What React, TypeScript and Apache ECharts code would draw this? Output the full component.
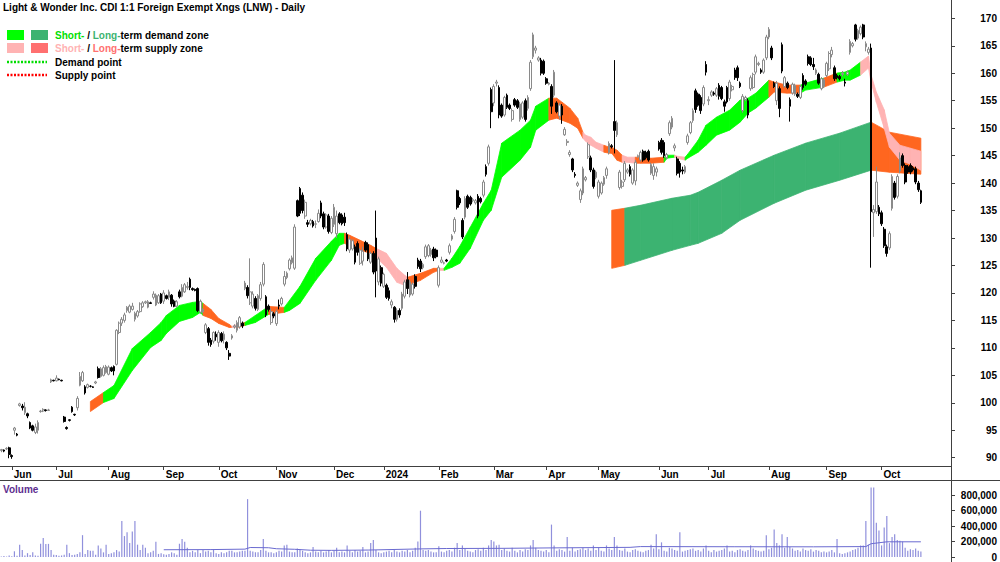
import React, { useEffect, useRef } from "react";
import * as echarts from "echarts";

// ---- categories: trading days per month (label, count) ----
const MONTHS: [string, number][] = [
  ["May", 4], ["Jun", 17], ["Jul", 20], ["Aug", 21], ["Sep", 21], ["Oct", 22], ["Nov", 22], ["Dec", 19],
  ["2024", 21], ["Feb", 21], ["Mar", 20], ["Apr", 20], ["May", 23], ["Jun", 19], ["Jul", 23], ["Aug", 22],
  ["Sep", 21], ["Oct", 16],
];
const PAD_DAYS = 11;

// ---- daily candles: [open, close, low, high] ----
const OHLC: number[][] = [
  [91.3,91.5,91.0,91.6],[91.4,91.2,91.0,91.5],[91.6,91.7,91.4,91.9],[91.8,90.6,89.9,92.0],
  [90.4,90.2,89.8,90.6],[95.0,95.4,94.2,95.6],[94.3,94.1,93.9,94.5],[99.5,99.8,99.3,100.0],[99.4,99.1,98.6,99.8],
  [98.2,99.2,97.8,100.1],[98.0,97.6,97.2,98.2],[96.4,95.4,95.2,96.6],[95.8,95.0,94.8,96.0],[94.6,95.6,94.3,96.2],
  [95.0,96.4,94.4,96.8],[98.4,98.5,98.2,98.7],[98.5,98.8,98.3,99.0],[98.7,98.6,98.4,98.8],[98.6,98.7,98.5,98.9],
  [103.8,104.2,103.6,104.4],[104.1,104.0,103.9,104.2],
  [104.0,104.5,103.9,105.0],[104.3,104.2,104.1,104.4],[104.1,104.0,103.9,104.2],[97.4,96.6,96.4,97.6],
  [95.5,95.3,95.1,95.7],[96.9,96.8,96.6,97.0],[99.2,98.4,98.2,99.4],[97.9,97.8,97.6,98.0],[99.1,100.8,98.6,101.2],
  [103.2,104.8,103.0,105.6],[104.0,105.5,103.8,105.8],[102.9,101.8,101.5,103.2],[102.8,103.3,102.6,103.5],
  [103.0,103.0,102.8,103.2],[102.9,102.8,102.7,103.0],[103.6,103.8,103.4,104.0],[106.2,104.6,104.4,106.6],
  [104.8,106.2,104.6,106.5],[105.0,106.4,104.8,106.8],[105.5,106.6,105.3,106.9],
  [105.2,106.5,105.0,106.8],[106.4,105.8,105.6,106.6],[106.6,105.8,105.0,106.8],[107.0,113.2,106.8,113.4],
  [112.8,114.5,112.5,114.8],[114.5,115.2,114.0,115.6],[115.0,116.0,114.6,116.4],[116.8,117.4,116.4,117.6],
  [116.5,117.6,116.3,117.9],[117.0,117.6,116.8,118.2],[115.2,116.3,114.8,116.6],[115.8,116.6,115.5,116.9],
  [116.6,118.0,116.4,118.3],[117.5,118.2,117.3,118.5],[118.2,118.4,118.0,118.6],[117.4,118.4,117.2,118.7],
  [118.2,118.1,118.0,118.4],[119.2,119.8,118.8,120.3],[117.8,119.6,117.6,119.9],[118.2,119.5,118.0,119.8],
  [119.8,118.2,118.0,120.0],
  [118.5,120.0,118.0,120.5],[119.5,119.0,118.8,119.7],[119.2,120.2,118.7,120.6],[119.6,118.0,117.5,119.8],
  [118.5,117.6,117.4,118.8],[117.6,118.4,117.4,118.7],[120.2,119.3,119.0,120.6],[119.4,121.0,119.2,121.6],
  [120.2,121.5,120.0,121.8],[121.0,121.2,120.6,122.0],[122.5,121.0,120.5,122.8],[120.8,120.6,120.4,121.0],
  [120.6,120.5,120.3,120.8],[120.8,116.8,116.5,121.0],[116.5,118.5,116.2,118.8],[116.6,117.0,116.3,117.2],
  [112.8,114.2,112.5,114.5],[113.5,111.0,110.4,113.8],[111.4,110.6,110.2,111.8],[111.2,112.8,110.8,113.0],
  [112.5,112.0,111.3,113.0],
  [111.0,112.8,110.2,113.2],[112.6,111.3,111.0,112.9],[111.5,112.5,110.8,113.0],[111.0,110.0,109.6,111.2],
  [109.0,108.5,107.8,109.6],[111.8,112.2,111.5,112.5],[113.8,114.0,113.5,114.3],[113.2,114.6,112.8,115.0],
  [113.8,115.5,113.5,115.8],[114.5,114.0,113.6,114.8],[120.8,121.8,120.5,122.2],[121.0,119.5,119.0,121.4],
  [118.2,120.2,117.8,126.3],[117.6,119.8,117.2,120.3],[119.0,117.2,116.8,119.4],[117.0,119.5,116.7,119.8],
  [119.0,121.5,118.6,122.0],[121.6,125.2,121.2,125.6],[119.3,116.0,115.6,119.6],[117.6,117.0,116.6,117.9],
  [114.6,116.6,114.2,117.2],[116.2,115.8,115.4,116.5],
  [114.4,116.6,114.0,117.0],[117.8,117.6,117.0,118.8],[118.0,119.0,117.7,119.3],[121.6,123.0,121.2,124.0],
  [122.8,123.6,122.5,123.9],[124.4,126.0,124.1,126.3],[125.5,126.4,125.2,126.8],[124.5,132.0,124.2,132.5],
  [136.8,134.0,133.8,137.0],[139.0,134.5,134.0,139.3],[137.8,135.0,134.5,138.3],[134.0,136.5,133.5,137.0],
  [132.8,132.5,132.0,133.3],[132.6,133.2,132.3,133.5],[133.0,132.2,131.9,133.3],[132.5,132.6,131.8,133.2],
  [133.0,134.5,132.8,135.2],[136.4,134.0,133.6,136.8],[134.4,132.0,131.6,134.8],[132.0,134.2,131.7,134.5],
  [134.0,131.2,130.8,134.4],[131.0,133.6,130.7,134.0],
  [132.5,135.6,132.0,136.2],[130.8,134.0,130.0,135.0],[134.4,132.8,132.5,134.7],[134.2,132.6,132.3,134.5],
  [133.8,132.8,132.2,134.6],[130.6,128.0,127.6,131.0],[127.8,129.8,127.3,130.3],[128.0,129.5,127.7,129.8],
  [128.4,125.6,125.2,128.8],[129.0,127.4,126.8,129.4],[125.4,127.8,125.1,128.1],[125.8,127.6,125.0,128.4],
  [129.2,127.8,127.5,129.5],[128.8,126.2,125.8,129.2],[125.6,127.2,125.3,127.5],[127.2,123.8,123.4,127.6],
  [130.0,124.0,119.2,135.0],[122.0,126.2,121.4,126.6],[124.6,121.8,121.2,125.0],
  [121.2,123.4,120.9,123.7],[121.4,119.2,118.9,121.7],[120.4,119.0,118.6,121.0],[117.8,118.4,117.2,118.8],
  [117.4,115.2,114.6,117.6],[115.2,116.8,114.8,117.2],[116.8,116.0,115.5,117.2],[117.2,119.8,116.8,120.2],
  [119.4,122.0,119.0,122.4],[122.4,120.8,119.8,123.8],[119.6,122.0,119.2,122.4],[119.8,121.6,119.5,121.9],
  [123.0,121.2,120.8,123.4],[126.0,124.8,124.4,126.4],[125.8,124.4,123.8,126.2],[124.6,125.2,124.3,125.5],
  [126.6,128.4,126.2,128.8],[126.8,128.6,126.5,128.9],[127.0,127.8,126.6,128.2],[128.0,126.4,125.8,128.4],
  [127.8,126.6,126.3,128.1],
  [121.4,124.6,121.0,125.0],[125.6,126.0,125.4,126.6],[125.4,125.5,125.2,125.7],[126.0,125.8,125.6,126.2],
  [127.4,128.6,127.0,129.0],[129.8,130.4,129.5,130.7],[131.2,133.4,130.8,133.8],[138.6,135.6,135.2,138.8],
  [137.2,136.4,136.0,137.5],[133.2,130.2,129.8,133.6],[133.8,137.2,133.4,137.6],[137.6,135.6,135.3,137.9],
  [137.4,136.2,135.9,137.7],[136.8,137.0,136.5,137.3],[136.4,136.8,136.1,137.1],[137.6,134.0,133.6,138.0],
  [137.2,136.6,136.3,137.5],[137.8,140.2,137.4,140.6],[143.0,141.6,141.2,143.4],[143.6,146.6,143.2,147.0],
  [157.0,153.0,150.0,157.4],
  [154.6,157.6,154.0,158.0],[158.2,158.4,157.6,158.8],[157.4,152.4,151.8,157.8],[154.2,152.2,151.9,154.5],
  [152.4,155.6,152.1,155.9],[156.0,153.8,153.5,156.3],[154.2,153.6,153.3,154.5],[151.6,153.2,151.2,153.6],
  [155.2,154.2,153.9,155.5],[155.0,153.8,153.5,155.3],[151.6,154.4,151.2,154.8],[152.0,154.6,151.7,154.9],
  [155.0,151.6,151.2,155.4],[153.6,155.6,153.2,156.0],[157.2,162.0,156.8,162.4],[163.0,167.0,162.6,167.4],
  [164.2,164.6,163.6,165.0],[162.4,162.8,162.1,163.1],[162.4,160.0,159.6,162.8],[162.2,160.0,159.7,162.5],
  [159.0,158.2,157.9,159.3],[158.0,158.2,157.8,158.4],[157.6,154.0,152.6,158.0],[156.0,160.2,155.6,160.6],
  [154.6,153.0,152.7,154.9],[152.2,154.2,151.6,154.6],[154.0,152.4,150.8,154.4],[148.8,149.8,148.6,150.2],
  [147.4,147.6,146.8,148.0],[145.2,145.6,144.8,146.0],[144.4,142.4,142.0,144.6],[141.6,141.4,141.0,142.0],
  [139.6,140.0,139.3,140.3],[137.0,138.6,136.4,139.0],[138.2,142.6,137.8,143.0],[140.6,141.0,140.3,141.3],
  [144.8,147.0,144.4,147.4],[144.6,142.4,142.0,145.0],[142.4,139.4,139.0,142.8],[141.0,142.0,140.7,142.3],
  [137.6,140.2,137.2,140.6],[138.2,140.0,137.9,140.3],[139.8,141.0,139.5,141.3],[141.4,142.6,140.8,143.0],
  [145.6,147.2,145.2,147.6],[146.8,146.6,146.3,147.1],[151.2,149.6,145.4,162.4],[148.8,151.0,148.4,151.4],
  [139.2,142.0,138.8,142.4],[139.4,140.2,139.0,140.6],[140.6,143.6,140.2,144.0],[142.0,142.4,141.7,142.7],
  [143.0,141.6,141.2,143.4],[140.0,142.4,139.7,142.7],[140.4,143.8,139.6,144.2],[144.8,145.0,144.6,145.2],
  [144.2,145.6,143.9,145.9],[145.8,144.2,143.9,146.1],[145.6,144.6,144.3,145.9],[145.8,144.2,143.9,146.1],
  [141.8,143.4,141.5,143.7],[141.4,143.0,140.6,143.6],[142.0,142.6,141.2,143.0],
  [147.4,146.2,145.9,147.7],[147.8,145.6,145.2,148.2],[147.4,145.0,144.6,147.8],[144.6,145.2,144.3,145.5],
  [149.0,151.0,148.6,151.4],[150.2,151.8,149.8,152.2],[146.4,146.8,145.8,147.2],[144.4,141.8,141.4,144.8],
  [143.6,142.0,141.0,144.0],[142.4,142.2,141.6,143.0],[142.0,143.0,141.7,143.3],[147.4,148.6,147.0,149.0],
  [149.2,151.0,148.9,151.3],[151.4,153.2,151.0,153.6],[156.8,153.4,152.8,157.2],[156.2,154.2,153.9,156.5],
  [155.6,153.2,152.6,156.0],[154.4,157.4,154.0,157.8],[161.6,160.2,159.6,162.2],
  [155.0,155.2,154.2,155.8],[156.0,156.6,155.7,156.9],[156.4,156.2,155.9,156.7],[156.0,157.2,155.7,157.5],
  [157.8,155.8,155.2,158.2],[157.4,155.4,155.1,157.7],[154.8,154.0,153.0,155.2],[157.4,154.8,154.5,157.7],
  [155.4,158.4,155.0,158.8],[157.0,157.6,156.7,157.9],[160.6,159.2,158.8,161.0],[161.0,159.2,158.6,161.4],
  [158.2,157.6,157.3,158.5],[153.2,155.8,152.8,156.2],[155.2,155.6,154.9,155.9],[155.0,152.4,151.8,155.4],
  [157.2,159.2,156.8,159.6],[157.4,159.8,157.1,160.1],[160.2,163.0,159.8,163.4],[161.6,161.8,161.3,162.1],
  [160.6,160.2,159.9,160.9],[160.2,162.4,159.9,162.7],[162.8,166.6,162.4,167.0],
  [166.6,168.0,166.2,168.4],[164.6,162.8,162.4,165.0],[158.2,157.6,157.3,158.5],[155.0,158.2,154.2,158.6],
  [157.2,153.6,152.0,157.6],[165.2,160.4,160.0,165.6],[157.6,159.2,157.3,159.5],[158.2,157.4,157.1,158.5],
  [155.2,154.0,151.2,155.6],[156.4,158.0,156.1,158.3],[156.2,157.8,155.9,158.1],[156.2,155.8,155.5,156.5],
  [155.6,157.6,155.3,157.9],[159.6,157.4,157.0,160.0],[158.6,158.0,157.7,158.9],[163.0,161.8,161.4,163.4],
  [162.8,161.6,161.3,163.1],[161.6,161.2,160.6,162.8],[160.0,160.6,159.7,160.9],[159.8,158.2,157.9,160.1],
  [157.2,159.0,156.9,159.3],[157.6,158.8,157.3,159.1],
  [159.6,161.8,159.3,162.1],[160.8,163.6,160.4,164.0],[163.4,164.2,162.9,164.8],[161.0,159.0,158.6,161.4],
  [159.6,159.2,158.9,159.9],[159.4,159.0,158.7,159.7],[159.8,160.0,159.4,160.4],[158.4,158.2,157.6,159.0],
  [159.8,160.2,159.5,160.5],[163.8,165.8,163.4,166.2],[165.0,165.4,164.7,165.7],[168.8,166.2,165.8,169.0],
  [166.4,167.8,166.1,168.1],[167.2,168.4,166.9,168.7],[168.8,166.6,166.2,169.0],[164.8,165.4,164.0,165.8],
  [163.8,164.4,163.4,164.8],[164.6,134.8,124.6,165.4],[134.6,135.2,130.2,136.0],[134.8,140.2,134.4,143.0],
  [135.6,134.4,134.0,136.0],
  [134.6,132.6,132.2,135.0],[131.6,128.6,128.2,132.0],[128.4,127.2,126.6,128.8],[128.2,130.8,127.8,131.2],
  [135.4,141.2,135.0,141.6],[140.0,137.4,137.0,140.4],[137.6,141.2,137.2,141.6],[142.2,144.6,141.8,145.6],
  [145.0,143.2,142.8,145.4],[143.2,140.2,139.8,143.6],[143.0,142.0,141.7,143.3],[143.2,142.0,141.6,143.6],
  [142.8,142.4,142.1,143.1],[142.6,140.2,139.8,143.0],[140.0,138.8,138.4,140.4],[138.6,136.5,136.2,138.8],
];

// ---- daily volume, thousands of shares ----
const VOLUME_K: number[] = [
  8,12,6,20,
  10,74,15,160,90,20,50,25,60,20,15,172,246,170,170,90,30,
  25,15,20,30,160,50,25,30,40,60,283,40,90,80,80,30,150,110,60,160,
  40,50,60,90,70,468,271,320,180,332,468,160,90,160,120,50,60,80,197,40,50,
  35,30,40,60,50,30,172,234,197,120,60,80,60,90,50,90,70,80,60,100,50,
  40,60,50,60,80,80,60,60,70,80,80,750,80,70,60,60,90,234,80,60,60,50,
  60,80,70,150,160,70,60,60,110,100,80,60,50,60,130,70,60,80,60,70,90,60,
  80,120,60,70,60,150,80,60,90,70,80,130,60,70,180,220,90,60,50,
  60,70,80,60,90,70,60,80,70,90,60,80,120,200,600,90,80,90,70,60,60,
  140,70,60,80,90,70,120,180,90,150,110,80,70,60,90,100,80,120,90,150,220,
  200,150,160,90,110,80,70,120,80,60,90,70,100,90,150,220,120,90,80,70,
  90,60,420,150,80,100,90,70,260,80,120,70,90,100,120,90,110,80,150,90,
  120,80,70,150,110,90,260,150,90,80,110,70,60,90,100,80,70,60,80,90,160,110,295,
  100,190,80,70,120,110,90,80,320,70,80,90,100,110,80,90,70,110,150,
  80,60,90,70,80,90,110,150,70,80,60,90,100,80,70,90,150,110,90,80,70,80,283,
  100,120,357,180,150,295,120,258,130,110,80,90,70,110,90,80,100,70,90,80,60,70,
  60,70,90,60,234,50,40,50,60,70,90,100,120,150,150,468,160,900,900,443,344,
  150,382,530,180,258,295,221,210,200,120,80,100,90,110,80,70,
];

// ---- volume moving average (day index, thousands) ----
const VOL_MA_IDX = [62, 80, 93, 95, 102, 105, 112, 118, 126, 140, 160, 170, 190, 210, 240, 244, 280, 310, 330, 332, 338, 351];
const VOL_MA_K = [94, 96, 102, 123, 120, 107, 100, 88, 86, 90, 105, 110, 112, 118, 125, 135, 133, 132, 135, 172, 197, 197];

// ---- short-term zone (day index, upper, lower, colour code) ----
const SHORT_IDX = [34,39,43,50,57,61,63,68,73,76,77,80,83,87,88,90,93,97,102,108,110,114,120,126,129,131,133,137,141,143,147,151,154,155,160,165,167,169,172,175,179,184,187,191,198,202,204,209,212,214,217,220,222,223,225,227,230,232,233,235,237,239,242,244,248,253,254,257,258,261,262,266,269,273,278,282,285,288,293,295,300,305,307,314,319,322,324,328,331,332,334,337,339,343,347,351];
const SHORT_TOP = [100.23,101.87,103.15,109.89,112.81,114.63,115.91,117.73,118.28,118.46,118.1,117.0,115.36,114.27,113.9,114.27,114.63,115.91,117.55,117.37,118.64,121.2,126.3,129.4,130.86,130.86,130.49,129.58,128.67,128.12,127.21,124.48,123.2,122.84,123.57,124.48,124.48,124.48,126.3,128.49,131.95,136.33,138.7,147.27,149.64,151.46,154.01,155.47,155.47,154.74,153.65,151.83,149.27,148.73,148.36,147.45,146.9,146.54,146.54,145.99,145.08,144.72,144.72,144.72,144.53,144.72,145.08,145.08,144.9,144.72,145.26,147.82,150.55,152.01,153.28,155.11,155.47,156.38,158.75,158.39,157.84,157.84,158.21,159.12,160.03,160.21,160.58,162.04,163.13,159.67,156.57,153.34,149.09,146.9,146.36,145.81];
const SHORT_BOT = [98.41,100.05,100.78,105.88,110.07,111.35,112.63,114.81,115.54,116.46,115.91,115.36,114.45,113.72,113.72,113.72,114.09,114.63,116.09,116.46,116.82,118.1,122.29,125.94,128.67,129.04,128.49,127.76,127.21,126.48,124.66,121.93,121.38,121.38,122.29,123.75,124.11,124.11,124.66,125.39,128.12,133.23,135.05,141.07,144.17,146.54,149.64,151.46,151.83,151.46,150.91,150.0,148.18,147.63,146.9,146.36,145.63,145.44,145.44,144.17,143.8,143.8,143.62,143.62,143.62,143.8,144.53,144.72,144.53,144.17,144.53,145.63,146.9,148.73,149.64,151.1,152.74,153.65,155.65,156.57,156.38,156.38,156.93,157.48,158.39,158.75,158.75,159.67,160.94,158.39,154.74,150.0,146.54,144.17,143.44,142.35];
const SHORT_COL = "OGGGGGGGGGOOOOPOGGOGGGGGGOOOOPPPPOOOPGGGGGGGGGGOOOOOPPPPOOOOPPOOOGGPPGGGGGGGGGOOOGGOGGGPPPPPPPP";

// ---- long-term zone ----
const LONG_IDX = [233,238,244,256,263,266,275,282,295,307,320,332,339,351];
const LONG_TOP = [135.05,135.42,135.96,137.24,137.79,138.33,140.52,142.35,145.08,147.27,149.09,151.1,149.27,148.18];
const LONG_BOT = [124.48,125.03,125.94,127.76,128.67,129.04,130.86,133.23,136.33,138.7,140.52,142.35,141.98,141.62];
const LONG_COL = "ODDDDDDDDDDOOO";

const PRICE_TICKS = [90,95,100,105,110,115,120,125,130,135,140,145,150,155,160,165,170];
const VOL_TICKS = [0,200000,400000,600000,800000];

const PALETTE: Record<string, string> = { G: "#00ff00", D: "#3cb371", O: "#ff661f", P: "#ffb3b3" };
const CODES = ["G", "D", "O", "P"];
const FONT = "'Liberation Sans', Arial, sans-serif";

function segments(idx: number[], top: number[], bot: number[], col: string) {
  const out: number[][] = [];
  for (let j = 0; j < idx.length - 1; j++) {
    out.push([idx[j], top[j], bot[j], idx[j + 1], top[j + 1], bot[j + 1], CODES.indexOf(col[j])]);
  }
  return out;
}

const bandRender = (params: any, api: any) => {
  const a = api.coord([api.value(0), api.value(1)]);
  const b = api.coord([api.value(3), api.value(4)]);
  const c = api.coord([api.value(3), api.value(5)]);
  const d = api.coord([api.value(0), api.value(2)]);
  const fill = PALETTE[CODES[api.value(6)]];
  return {
    type: "polygon",
    shape: { points: [a, b, c, d] },
    style: { fill, stroke: fill, lineWidth: 0.8 },
  };
};

export default function App() {
  const ref = useRef<HTMLDivElement>(null);
  useEffect(() => {
    document.body.style.margin = "0";
    const chart = echarts.init(ref.current!, null, { renderer: "svg" });
    const categories: string[] = [];
    MONTHS.forEach(([m, n], mi) => {
      for (let k = 0; k < n; k++) categories.push(`${m}|${mi}|${k}`);
    });
    for (let k = 0; k < PAD_DAYS; k++) categories.push(`|pad|${k}`);
    const isMonthStart = (_i: number, v: string) => {
      const p = String(v).split("|");
      return p[2] === "0" && p[1] !== "0" && p[1] !== "pad";
    };
    const labelStyle = { fontSize: 10, fontWeight: "bold" as const, color: "#000", fontFamily: FONT };

    chart.setOption({
      animation: false,
      grid: [
        { left: 0, top: 0, width: 951, height: 466 },
        { left: 0, top: 482, width: 951, height: 79 },
      ],
      xAxis: [
        {
          type: "category", gridIndex: 0, data: categories, boundaryGap: true,
          axisLine: { show: true, lineStyle: { color: "#404040", width: 1 } },
          axisTick: { show: true, interval: isMonthStart, alignWithLabel: true, length: 4, lineStyle: { color: "#404040" } },
          axisLabel: { ...labelStyle, interval: isMonthStart, formatter: (v: string) => v.split("|")[0], align: "left", margin: 3, padding: [0, 0, 0, 2] },
          splitLine: { show: false },
        },
        {
          type: "category", gridIndex: 1, data: categories, boundaryGap: true,
          axisLine: { show: false }, axisTick: { show: false }, axisLabel: { show: false }, splitLine: { show: false },
        },
      ],
      yAxis: [
        {
          type: "value", gridIndex: 0, position: "right", min: 88.49, max: 173.34,
          axisLine: { show: false },
          axisTick: { show: true, customValues: PRICE_TICKS, length: 4, lineStyle: { color: "#404040" } },
          axisLabel: { ...labelStyle, customValues: PRICE_TICKS, align: "right", margin: 46 },
          splitLine: { show: false },
        },
        {
          type: "value", gridIndex: 1, position: "right", min: 0, max: 972000,
          axisLine: { show: false },
          axisTick: { show: true, customValues: VOL_TICKS, length: 4, lineStyle: { color: "#404040" } },
          axisLabel: { ...labelStyle, customValues: VOL_TICKS, align: "right", margin: 46, formatter: (v: number) => v.toLocaleString("en-US") },
          splitLine: { show: false },
        },
      ],
      series: [
        {
          type: "custom", xAxisIndex: 0, yAxisIndex: 0, renderItem: bandRender,
          data: segments(LONG_IDX, LONG_TOP, LONG_BOT, LONG_COL),
          encode: { x: [0, 3], y: [1, 2, 4, 5] }, z: 1, clip: true, silent: true,
        },
        {
          type: "custom", xAxisIndex: 0, yAxisIndex: 0, renderItem: bandRender,
          data: segments(SHORT_IDX, SHORT_TOP, SHORT_BOT, SHORT_COL),
          encode: { x: [0, 3], y: [1, 2, 4, 5] }, z: 2, clip: true, silent: true,
        },
        {
          type: "candlestick", xAxisIndex: 0, yAxisIndex: 0, data: OHLC, barWidth: 2.2, z: 3,
          itemStyle: { color: "#ffffff", color0: "#000000", borderColor: "#8a8a8a", borderColor0: "#000000", borderWidth: 1 },
        },
        {
          type: "bar", xAxisIndex: 1, yAxisIndex: 1, data: VOLUME_K.map((v) => v * 1000), barWidth: 1.2,
          itemStyle: { color: "#9090dc" },
        },
        {
          type: "line", xAxisIndex: 1, yAxisIndex: 1, data: VOL_MA_IDX.map((i, j) => [i, VOL_MA_K[j] * 1000]),
          symbol: "none", lineStyle: { color: "#6a6ad0", width: 1 }, z: 4,
        },
      ],
      graphic: [
        { type: "line", shape: { x1: 951.5, y1: 0, x2: 951.5, y2: 562 }, style: { stroke: "#404040", lineWidth: 1 }, z: 10 },
        { type: "line", shape: { x1: 0, y1: 480.5, x2: 1000, y2: 480.5 }, style: { stroke: "#404040", lineWidth: 1 }, z: 10 },
        { type: "text", left: 3, top: 2, style: { text: "Light & Wonder Inc. CDI 1:1 Foreign Exempt Xngs (LNW) - Daily", font: `bold 10px ${FONT}`, fill: "#000" } },
        { type: "rect", shape: { x: 7, y: 30, width: 17, height: 10 }, style: { fill: "#00ff00" } },
        { type: "rect", shape: { x: 31, y: 30, width: 17, height: 10 }, style: { fill: "#3cb371" } },
        { type: "rect", shape: { x: 7, y: 43, width: 17, height: 10 }, style: { fill: "#ffb3b3" } },
        { type: "rect", shape: { x: 31, y: 43, width: 17, height: 10 }, style: { fill: "#ff7070" } },
        { type: "line", shape: { x1: 7, y1: 62, x2: 47, y2: 62 }, style: { stroke: "#00dd00", lineWidth: 2.5, lineDash: [2, 1.5] } },
        { type: "line", shape: { x1: 7, y1: 75, x2: 47, y2: 75 }, style: { stroke: "#ff0000", lineWidth: 2.5, lineDash: [2, 1.5] } },
        {
          type: "text", x: 55, y: 35,
          style: {
            text: "{g|Short-}{k| / }{d|Long-}{k|term demand zone}", verticalAlign: "middle", font: `bold 10px ${FONT}`,
            rich: {
              g: { fill: "#00e000", font: `bold 10px ${FONT}` },
              d: { fill: "#3cb371", font: `bold 10px ${FONT}` },
              k: { fill: "#000", font: `bold 10px ${FONT}` },
            },
          },
        },
        {
          type: "text", x: 55, y: 48,
          style: {
            text: "{p|Short-}{k| / }{r|Long-}{k|term supply zone}", verticalAlign: "middle", font: `bold 10px ${FONT}`,
            rich: {
              p: { fill: "#ffb3b3", font: `bold 10px ${FONT}` },
              r: { fill: "#ff7070", font: `bold 10px ${FONT}` },
              k: { fill: "#000", font: `bold 10px ${FONT}` },
            },
          },
        },
        { type: "text", x: 55, y: 62, style: { text: "Demand point", verticalAlign: "middle", font: `bold 10px ${FONT}`, fill: "#000" } },
        { type: "text", x: 55, y: 75, style: { text: "Supply point", verticalAlign: "middle", font: `bold 10px ${FONT}`, fill: "#000" } },
        { type: "text", x: 3, y: 489, style: { text: "Volume", verticalAlign: "middle", font: `bold 10px ${FONT}`, fill: "#5d2e8f" } },
      ],
    });
    return () => chart.dispose();
  }, []);
  return <div ref={ref} style={{ width: 1000, height: 562 }} />;
}
